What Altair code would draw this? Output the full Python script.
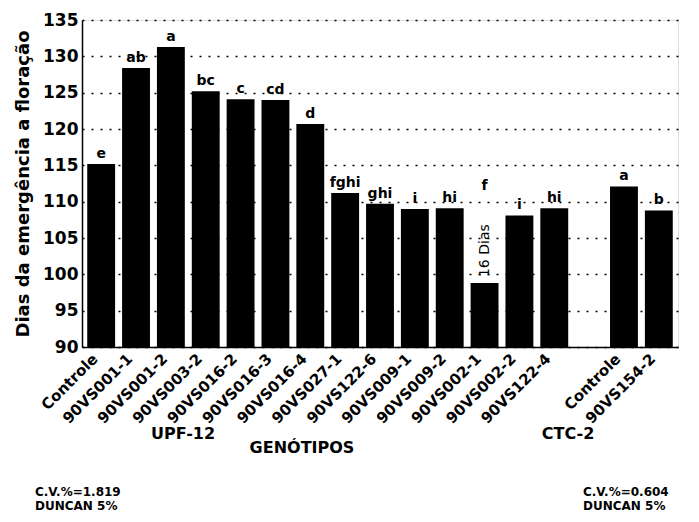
import altair as alt
import pandas as pd

# ---- data ----
upf_genotypes = ["Controle", "90VS001-1", "90VS001-2", "90VS003-2", "90VS016-2",
                 "90VS016-3", "90VS016-4", "90VS027-1", "90VS122-6", "90VS009-1",
                 "90VS009-2", "90VS002-1", "90VS002-2", "90VS122-4"]
upf_days = [115.2, 128.4, 131.3, 125.2, 124.1, 124.0, 120.7, 111.2, 109.7, 109.0,
            109.1, 98.8, 108.1, 109.1]
upf_letters = ["e", "ab", "a", "bc", "c", "cd", "d", "fghi", "ghi", "i", "hi", "f", "i", "hi"]

ctc_genotypes = ["Controle", "90VS154-2"]
ctc_days = [112.1, 108.8]
ctc_letters = ["a", "b"]

y_ticks = [90, 95, 100, 105, 110, 115, 120, 125, 130, 135]
note_genotype = "90VS002-1"
note_text = "16 Dias"

rows = []
for g, v, l in zip(upf_genotypes, upf_days, upf_letters):
    rows.append({"key": "UPF-12|" + g, "name": g, "days": v, "letter": l})
for g, v, l in zip(ctc_genotypes, ctc_days, ctc_letters):
    rows.append({"key": "CTC-2|" + g, "name": g, "days": v, "letter": l})
df = pd.DataFrame(rows)
domain = ["UPF-12|" + g for g in upf_genotypes] + ["gap"] + ["CTC-2|" + g for g in ctc_genotypes]

FONT = "DejaVu Sans"

x = alt.X("key:N", scale=alt.Scale(domain=domain, paddingInner=0.2, paddingOuter=0.15),
          sort=domain,
          axis=alt.Axis(title=None, labelAngle=-45, labelFont=FONT, labelFontWeight="bold",
                        labelFontSize=15, labelColor="black", ticks=False, domainColor="black",
                        domainWidth=1.5, labelPadding=4, labelOverlap=False, labelOffset=-11,
                        labelExpr="indexof(datum.value,'|')>=0 ? split(datum.value,'|')[1] : ''"))
y = alt.Y("days:Q", scale=alt.Scale(domain=[90, 135], nice=False, zero=False),
          axis=alt.Axis(title="Dias da emergência a floração", values=y_ticks,
                        labelFont=FONT, labelFontWeight="bold", labelFontSize=17,
                        labelColor="black", labelOverlap=False, labelFlush=False,
                        titleFont=FONT, titleFontWeight="bold",
                        titleFontSize=18, titleColor="black", ticks=False,
                        domainColor="black", domainWidth=1.5, grid=True,
                        gridColor="black", gridDash=[2, 7], gridWidth=1.5,
                        labelPadding=4, titlePadding=10))

base = alt.Chart(df)
bars = base.mark_bar(color="black", clip=True).encode(x=x, y=y, y2=alt.datum(90))

letters = base.transform_filter(alt.datum.name != note_genotype).mark_text(
    font=FONT, fontWeight="bold", fontSize=14, baseline="bottom", dy=-3, color="black"
).encode(x=x, y=y, text="letter:N")

special = base.transform_filter(alt.datum.name == note_genotype)
special_letter = special.mark_text(
    font=FONT, fontWeight="bold", fontSize=14, baseline="bottom", dy=-90, color="black"
).encode(x=x, y=y, text="letter:N")
note = special.mark_text(
    font=FONT, fontSize=14, align="left", baseline="middle",
    angle=270, dx=6, color="black"
).encode(x=x, y=y, text=alt.value(note_text))

one = pd.DataFrame({"a": [0]})
def label(txt, px, py, size=16, align="center"):
    return alt.Chart(one).mark_text(text=txt, font=FONT, fontWeight="bold", fontSize=size,
                                    align=align, baseline="middle", color="black").encode(
        x=alt.value(px), y=alt.value(py))

annots = [
    label("UPF-12", 101, 414),
    label("GENÓTIPOS", 220, 428),
    label("CTC-2", 486, 414),
    label("C.V.%=1.819", -47, 472, size=12, align="left"),
    label("DUNCAN 5%", -47, 486, size=12, align="left"),
    label("C.V.%=0.604", 501, 472, size=12, align="left"),
    label("DUNCAN 5%", 501, 486, size=12, align="left"),
]

chart = alt.layer(bars, letters, special_letter, note, *annots).properties(
    width=596, height=327,
    autosize=alt.AutoSizeParams(type="none"),
    padding={"left": 74, "top": 12, "right": 13, "bottom": 167},
).configure_view(stroke="black", strokeWidth=1.5).configure(background="white")

chart.save("out.html", embed_options={"renderer": "svg", "actions": False})
